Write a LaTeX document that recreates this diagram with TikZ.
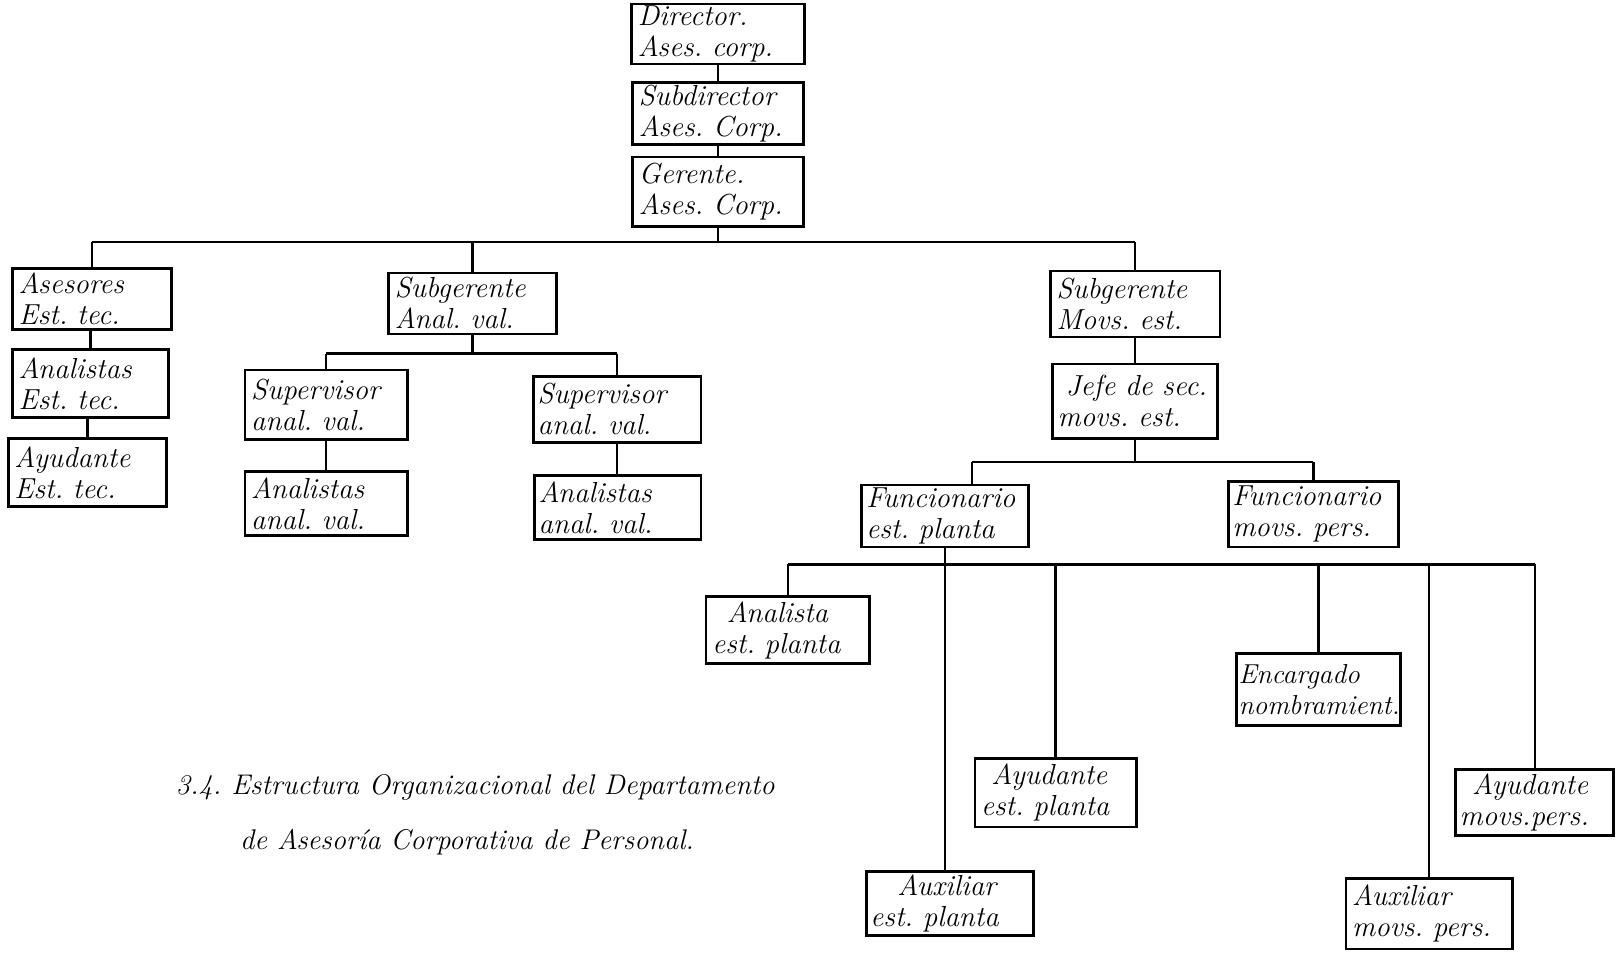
\documentclass[tikz,border=0pt]{standalone}
\usepackage{fontspec}
\begin{document}
\frenchspacing
\begin{tikzpicture}[x=1pt,y=-1pt,
  orgbox/.style={draw, line width=2.6pt, rectangle, inner xsep=6pt, inner ysep=0pt,
    align=left, anchor=center, font=\fontsize{28}{30}\selectfont\itshape},
  link/.style={line width=2.3pt},
  captext/.style={anchor=west, inner sep=0pt, font=\fontsize{27.5}{30}\selectfont\itshape}]
\useasboundingbox (0,0) rectangle (1568,924);
% top chain
\node[orgbox, minimum width=167pt, text width=155pt, minimum height=58pt] (dir) at (694.5,33) {Director.\\Ases. corp.};
\node[orgbox, minimum width=165pt, text width=153pt, minimum height=60pt] (sub) at (694.5,110) {Subdirector\\Ases. Corp.};
\node[orgbox, minimum width=165pt, text width=153pt, minimum height=67pt] (ger) at (694.5,185.5) {Gerente.\\Ases. Corp.};
% left branch
\node[orgbox, minimum width=154pt, text width=142pt, minimum height=59pt] (ase) at (89,289.5) {Asesores\\Est. tec.};
\node[orgbox, minimum width=151pt, text width=139pt, minimum height=66pt] (anet) at (87.5,371) {Analistas\\Est. tec.};
\node[orgbox, minimum width=153pt, text width=141pt, minimum height=66pt] (ayet) at (84.5,457) {Ayudante\\Est. tec.};
% middle branch
\node[orgbox, minimum width=162pt, text width=150pt, minimum height=59pt] (sgav) at (457,293.5) {Subgerente\\Anal. val.};
\node[orgbox, minimum width=157pt, text width=145pt, minimum height=67pt] (sup1) at (315.5,391.5) {Supervisor\\anal. val.};
\node[orgbox, minimum width=162pt, text width=154pt, minimum height=64pt, inner xsep=4pt] (sup2) at (597,396) {Supervisor\\anal. val.};
\node[orgbox, minimum width=157pt, text width=145pt, minimum height=62pt] (anav1) at (315.5,487) {Analistas\\anal. val.};
\node[orgbox, minimum width=161pt, text width=153pt, minimum height=62pt, inner xsep=4pt] (anav2) at (597.5,491) {Analistas\\anal. val.};
% right branch
\node[orgbox, minimum width=164pt, text width=152pt, minimum height=64pt] (sgme) at (1098,294) {Subgerente\\Movs. est.};
\node[orgbox, minimum width=160pt, text width=150pt, minimum height=72pt, inner xsep=5pt] (jefe) at (1098,388) {\hspace*{8pt}Jefe de sec.\\movs. est.};
\node[orgbox, minimum width=162pt, text width=152pt, minimum height=60pt, inner xsep=5pt] (fep) at (914,499) {Funcionario\\est. planta};
\node[orgbox, minimum width=165pt, text width=157pt, minimum height=63pt, inner xsep=4pt] (fmp) at (1270.5,497.5) {Funcionario\\movs. pers.};
\node[orgbox, minimum width=158pt, text width=146pt, minimum height=65pt] (aep) at (762,609.5) {\hspace*{14pt}Analista\\est. planta};
\node[orgbox, minimum width=156pt, text width=144pt, minimum height=66pt] (ayep) at (1021,767) {\hspace*{10pt}Ayudante\\est. planta};
\node[orgbox, minimum width=162pt, text width=154pt, minimum height=62pt, inner xsep=4pt] (auep) at (919,874) {\hspace*{26pt}Auxiliar\\est. planta};
\node[orgbox, minimum width=159pt, text width=155pt, minimum height=70pt, inner xsep=2pt, font=\fontsize{26.5}{30}\selectfont\itshape] (enc) at (1275.5,667) {Encargado\\nombramient.};
\node[orgbox, minimum width=161pt, text width=149pt, minimum height=68pt] (aump) at (1382.5,884) {Auxiliar\\movs. pers.};
\node[orgbox, minimum width=153pt, text width=145pt, minimum height=64pt, inner xsep=4pt] (aymp) at (1484.5,776) {\hspace*{12pt}Ayudante\\movs.pers.};
% caption
\node[captext] (cap1) at (170,762) {3.4. Estructura Organizacional del Departamento};
\node[captext] (cap2) at (232,815) {de Asesoría Corporativa de Personal.};
% bar levels
\coordinate (bA) at (0,234);
\coordinate (bB) at (0,342);
\coordinate (bC) at (0,447);
\coordinate (jl) at (940,447);
\coordinate (bD) at (0,546);
% connectors
\draw[link] (dir) -- (sub);
\draw[link] (sub) -- (ger);
\draw[link] (ger.south) -- (ger.south |- bA);
\draw[link] (ase.north |- bA) -- (sgme.north |- bA);
\draw[link] (ase.north |- bA) -- (ase.north);
\draw[link] (sgav.north |- bA) -- (sgav.north);
\draw[link] (sgme.north |- bA) -- (sgme.north);
\draw[link] (anet.north) -- (anet.north |- ase.south);
\draw[link] (ayet.north) -- (ayet.north |- anet.south);
\draw[link] (sgav.south) -- (sgav.south |- bB);
\draw[link] (sup1.north |- bB) -- (sup2.north |- bB);
\draw[link] (sup1.north |- bB) -- (sup1.north);
\draw[link] (sup2.north |- bB) -- (sup2.north);
\draw[link] (sup1.south) -- (anav1.north);
\draw[link] (sup2.south) -- (sup2.south |- anav2.north);
\draw[link] (sgme.south) -- (jefe.north);
\draw[link] (jefe.south) -- (jefe.south |- bC);
\draw[link] (jl) -- (fmp.north |- bC);
\draw[link] (jl) -- (jl |- fep.north);
\draw[link] (fmp.north |- bC) -- (fmp.north);
\draw[link] (fep.south) -- (fep.south |- auep.north);
\draw[link] (aep.north |- bD) -- (aymp.north |- bD);
\draw[link] (aep.north |- bD) -- (aep.north);
\draw[link] (ayep.north |- bD) -- (ayep.north);
\draw[link] (enc.north |- bD) -- (enc.north);
\draw[link] (aump.north |- bD) -- (aump.north);
\draw[link] (aymp.north |- bD) -- (aymp.north);
\end{tikzpicture}
\end{document}
